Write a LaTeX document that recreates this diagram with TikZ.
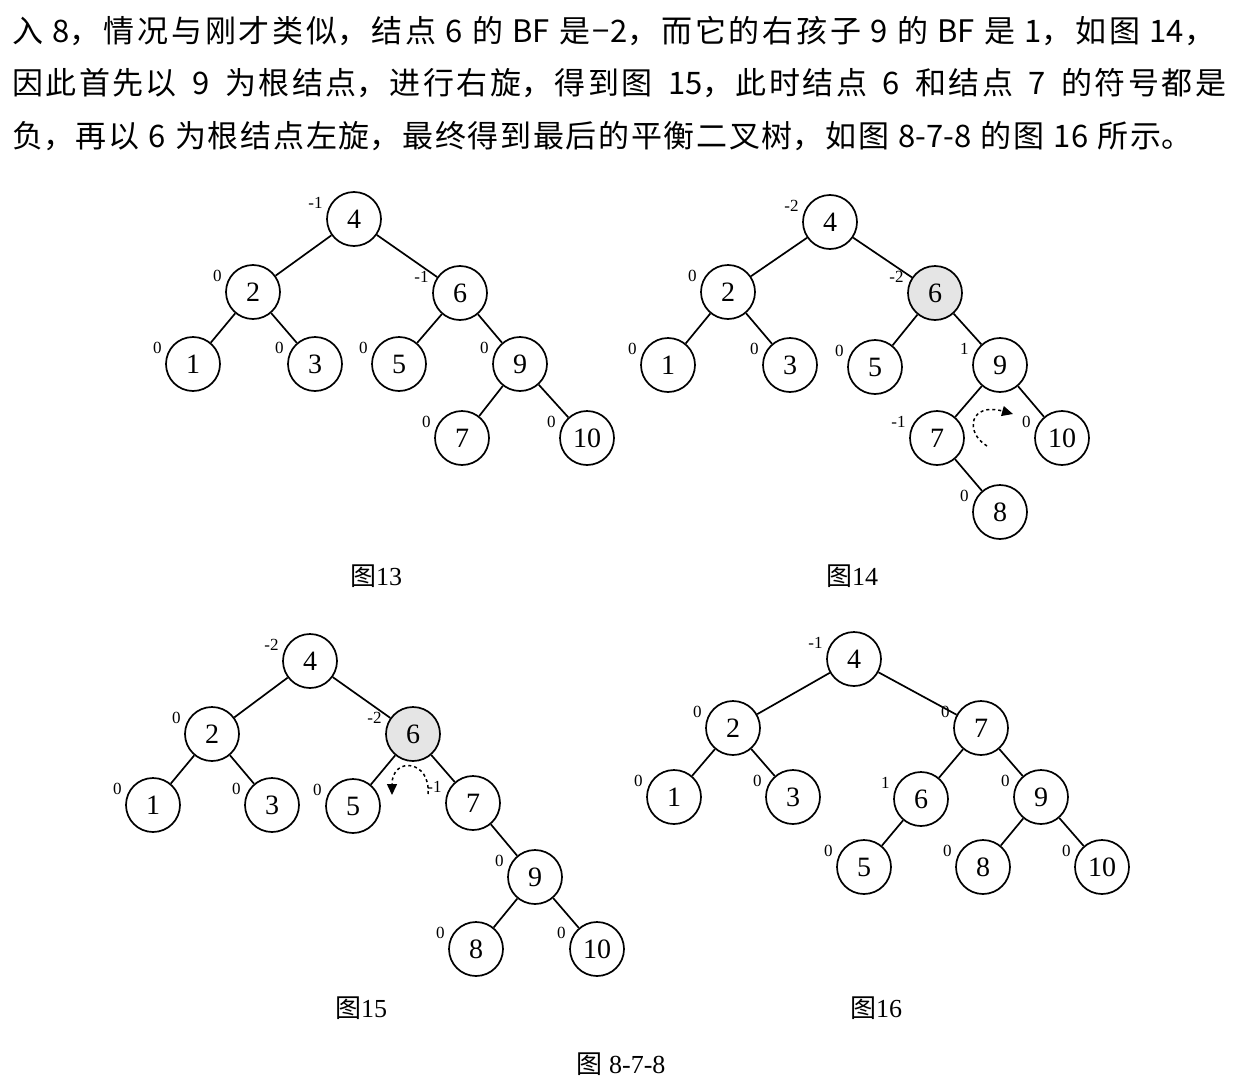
\documentclass[tikz,border=0pt]{standalone}
\usepackage{fontspec}
\setmainfont{Liberation Serif}
\newfontfamily\cjk{Noto Sans CJK SC}
\usetikzlibrary{arrows.meta}
\XeTeXlinebreaklocale "zh"
\XeTeXlinebreakskip=0pt plus 1fill
\newcommand{\textline}[2]{\parbox[b]{#1}{\parfillskip=0pt\spaceskip=0.3em\relax #2}}

\begin{document}
\begin{tikzpicture}[x=1pt, y=-1pt,
    avl/.style={circle, draw, line width=1.7pt, minimum size=54pt, inner sep=0pt, font=\fontsize{28}{28}\selectfont},
    hot/.style={avl, fill=black!10},
    bf/.style={font=\fontsize{17}{17}\selectfont, inner sep=0pt, anchor=south east, label distance=5pt},
    edge/.style={line width=1.7pt},
    turn/.style={dashed, line width=1.5pt, -{Triangle[length=11pt, width=10pt]}},
    para/.style={anchor=base west, inner sep=0pt, font=\cjk\fontsize{31}{31}\selectfont},
    figname/.style={font=\fontsize{26}{26}\selectfont}
]
\useasboundingbox (0,0) rectangle (1240,1084);

% Paragraph
\node[para] (line1) at (12,42) {\textline{1203pt}{入 8，情况与刚才类似，结点 6 的 BF 是−2，而它的右孩子 9 的 BF 是 1，如图 14，}};
\node[para] (line2) at (12,94) {\textline{1214pt}{因此首先以\enspace 9\enspace 为根结点，进行右旋，得到图\enspace 15，此时结点\enspace 6\enspace 和结点\enspace 7\enspace 的符号都是}};
\node[para] (line3) at (12,147) {\textline{1180pt}{负，再以 6 为根结点左旋，最终得到最后的平衡二叉树，如图 8-7-8 的图 16 所示。}};

% Tree 13
\node[avl, label={[bf]162:-1}] (a4) at (354,219) {4};
\node[avl, label={[bf]162:0}] (a2) at (253,292) {2};
\node[avl, label={[bf]162:-1}] (a6) at (460,293) {6};
\node[avl, label={[bf]162:0}] (a1) at (193,364) {1};
\node[avl, label={[bf]162:0}] (a3) at (315,364) {3};
\node[avl, label={[bf]162:0}] (a5) at (399,364) {5};
\node[avl, label={[bf]162:0}] (a9) at (520,364) {9};
\node[avl, label={[bf]162:0}] (a7) at (462,438) {7};
\node[avl, label={[bf]162:0}] (a10) at (587,438) {10};
\draw[edge] (a4) -- (a2) (a4) -- (a6) (a2) -- (a1) (a2) -- (a3)
            (a6) -- (a5) (a6) -- (a9) (a9) -- (a7) (a9) -- (a10);
\node[figname] (cap13) at (376,576) {{\cjk 图}13};

% Tree 14
\node[avl, label={[bf]162:-2}] (b4) at (830,222) {4};
\node[avl, label={[bf]162:0}] (b2) at (728,292) {2};
\node[hot, label={[bf]162:-2}] (b6) at (935,293) {6};
\node[avl, label={[bf]162:0}] (b1) at (668,365) {1};
\node[avl, label={[bf]162:0}] (b3) at (790,365) {3};
\node[avl, label={[bf]162:0}] (b5) at (875,367) {5};
\node[avl, label={[bf]162:1}] (b9) at (1000,365) {9};
\node[avl, label={[bf]162:-1}] (b7) at (937,438) {7};
\node[avl, label={[bf]162:0}] (b10) at (1062,438) {10};
\node[avl, label={[bf]162:0}] (b8) at (1000,512) {8};
\draw[edge] (b4) -- (b2) (b4) -- (b6) (b2) -- (b1) (b2) -- (b3)
            (b6) -- (b5) (b6) -- (b9) (b9) -- (b7) (b9) -- (b10) (b7) -- (b8);
\coordinate (b-from) at (987,446);
\coordinate (b-to) at (1013,414);
\draw[turn] (b-from) .. controls (964,432) and (970,402) .. (b-to);
\node[figname] (cap14) at (852,576) {{\cjk 图}14};

% Tree 15
\node[avl, label={[bf]162:-2}] (c4) at (310,661) {4};
\node[avl, label={[bf]162:0}] (c2) at (212,734) {2};
\node[hot, label={[bf]162:-2}] (c6) at (413,734) {6};
\node[avl, label={[bf]162:0}] (c1) at (153,805) {1};
\node[avl, label={[bf]162:0}] (c3) at (272,805) {3};
\node[avl, label={[bf]162:0}] (c5) at (353,806) {5};
\node[avl, label={[bf]162:-1}] (c7) at (473,803) {7};
\node[avl, label={[bf]162:0}] (c9) at (535,877) {9};
\node[avl, label={[bf]162:0}] (c8) at (476,949) {8};
\node[avl, label={[bf]162:0}] (c10) at (597,949) {10};
\draw[edge] (c4) -- (c2) (c4) -- (c6) (c2) -- (c1) (c2) -- (c3)
            (c6) -- (c5) (c6) -- (c7) (c7) -- (c9) (c9) -- (c8) (c9) -- (c10);
\coordinate (c-from) at (428,794);
\coordinate (c-to) at (392,795);
\draw[turn] (c-from) .. controls (431,760) and (392,756) .. (c-to);
\node[figname] (cap15) at (361,1008) {{\cjk 图}15};

% Tree 16
\node[avl, label={[bf]162:-1}] (d4) at (854,659) {4};
\node[avl, label={[bf]162:0}] (d2) at (733,728) {2};
\node[avl, label={[bf]162:0}] (d7) at (981,728) {7};
\node[avl, label={[bf]162:0}] (d1) at (674,797) {1};
\node[avl, label={[bf]162:0}] (d3) at (793,797) {3};
\node[avl, label={[bf]162:1}] (d6) at (921,799) {6};
\node[avl, label={[bf]162:0}] (d9) at (1041,797) {9};
\node[avl, label={[bf]162:0}] (d5) at (864,867) {5};
\node[avl, label={[bf]162:0}] (d8) at (983,867) {8};
\node[avl, label={[bf]162:0}] (d10) at (1102,867) {10};
\draw[edge] (d4) -- (d2) (d4) -- (d7) (d2) -- (d1) (d2) -- (d3)
            (d7) -- (d6) (d7) -- (d9) (d6) -- (d5) (d9) -- (d8) (d9) -- (d10);
\node[figname] (cap16) at (876,1008) {{\cjk 图}16};

% Figure number
\node[figname] (fig) at (621,1064) {{\cjk 图} 8-7-8};
\end{tikzpicture}
\end{document}
